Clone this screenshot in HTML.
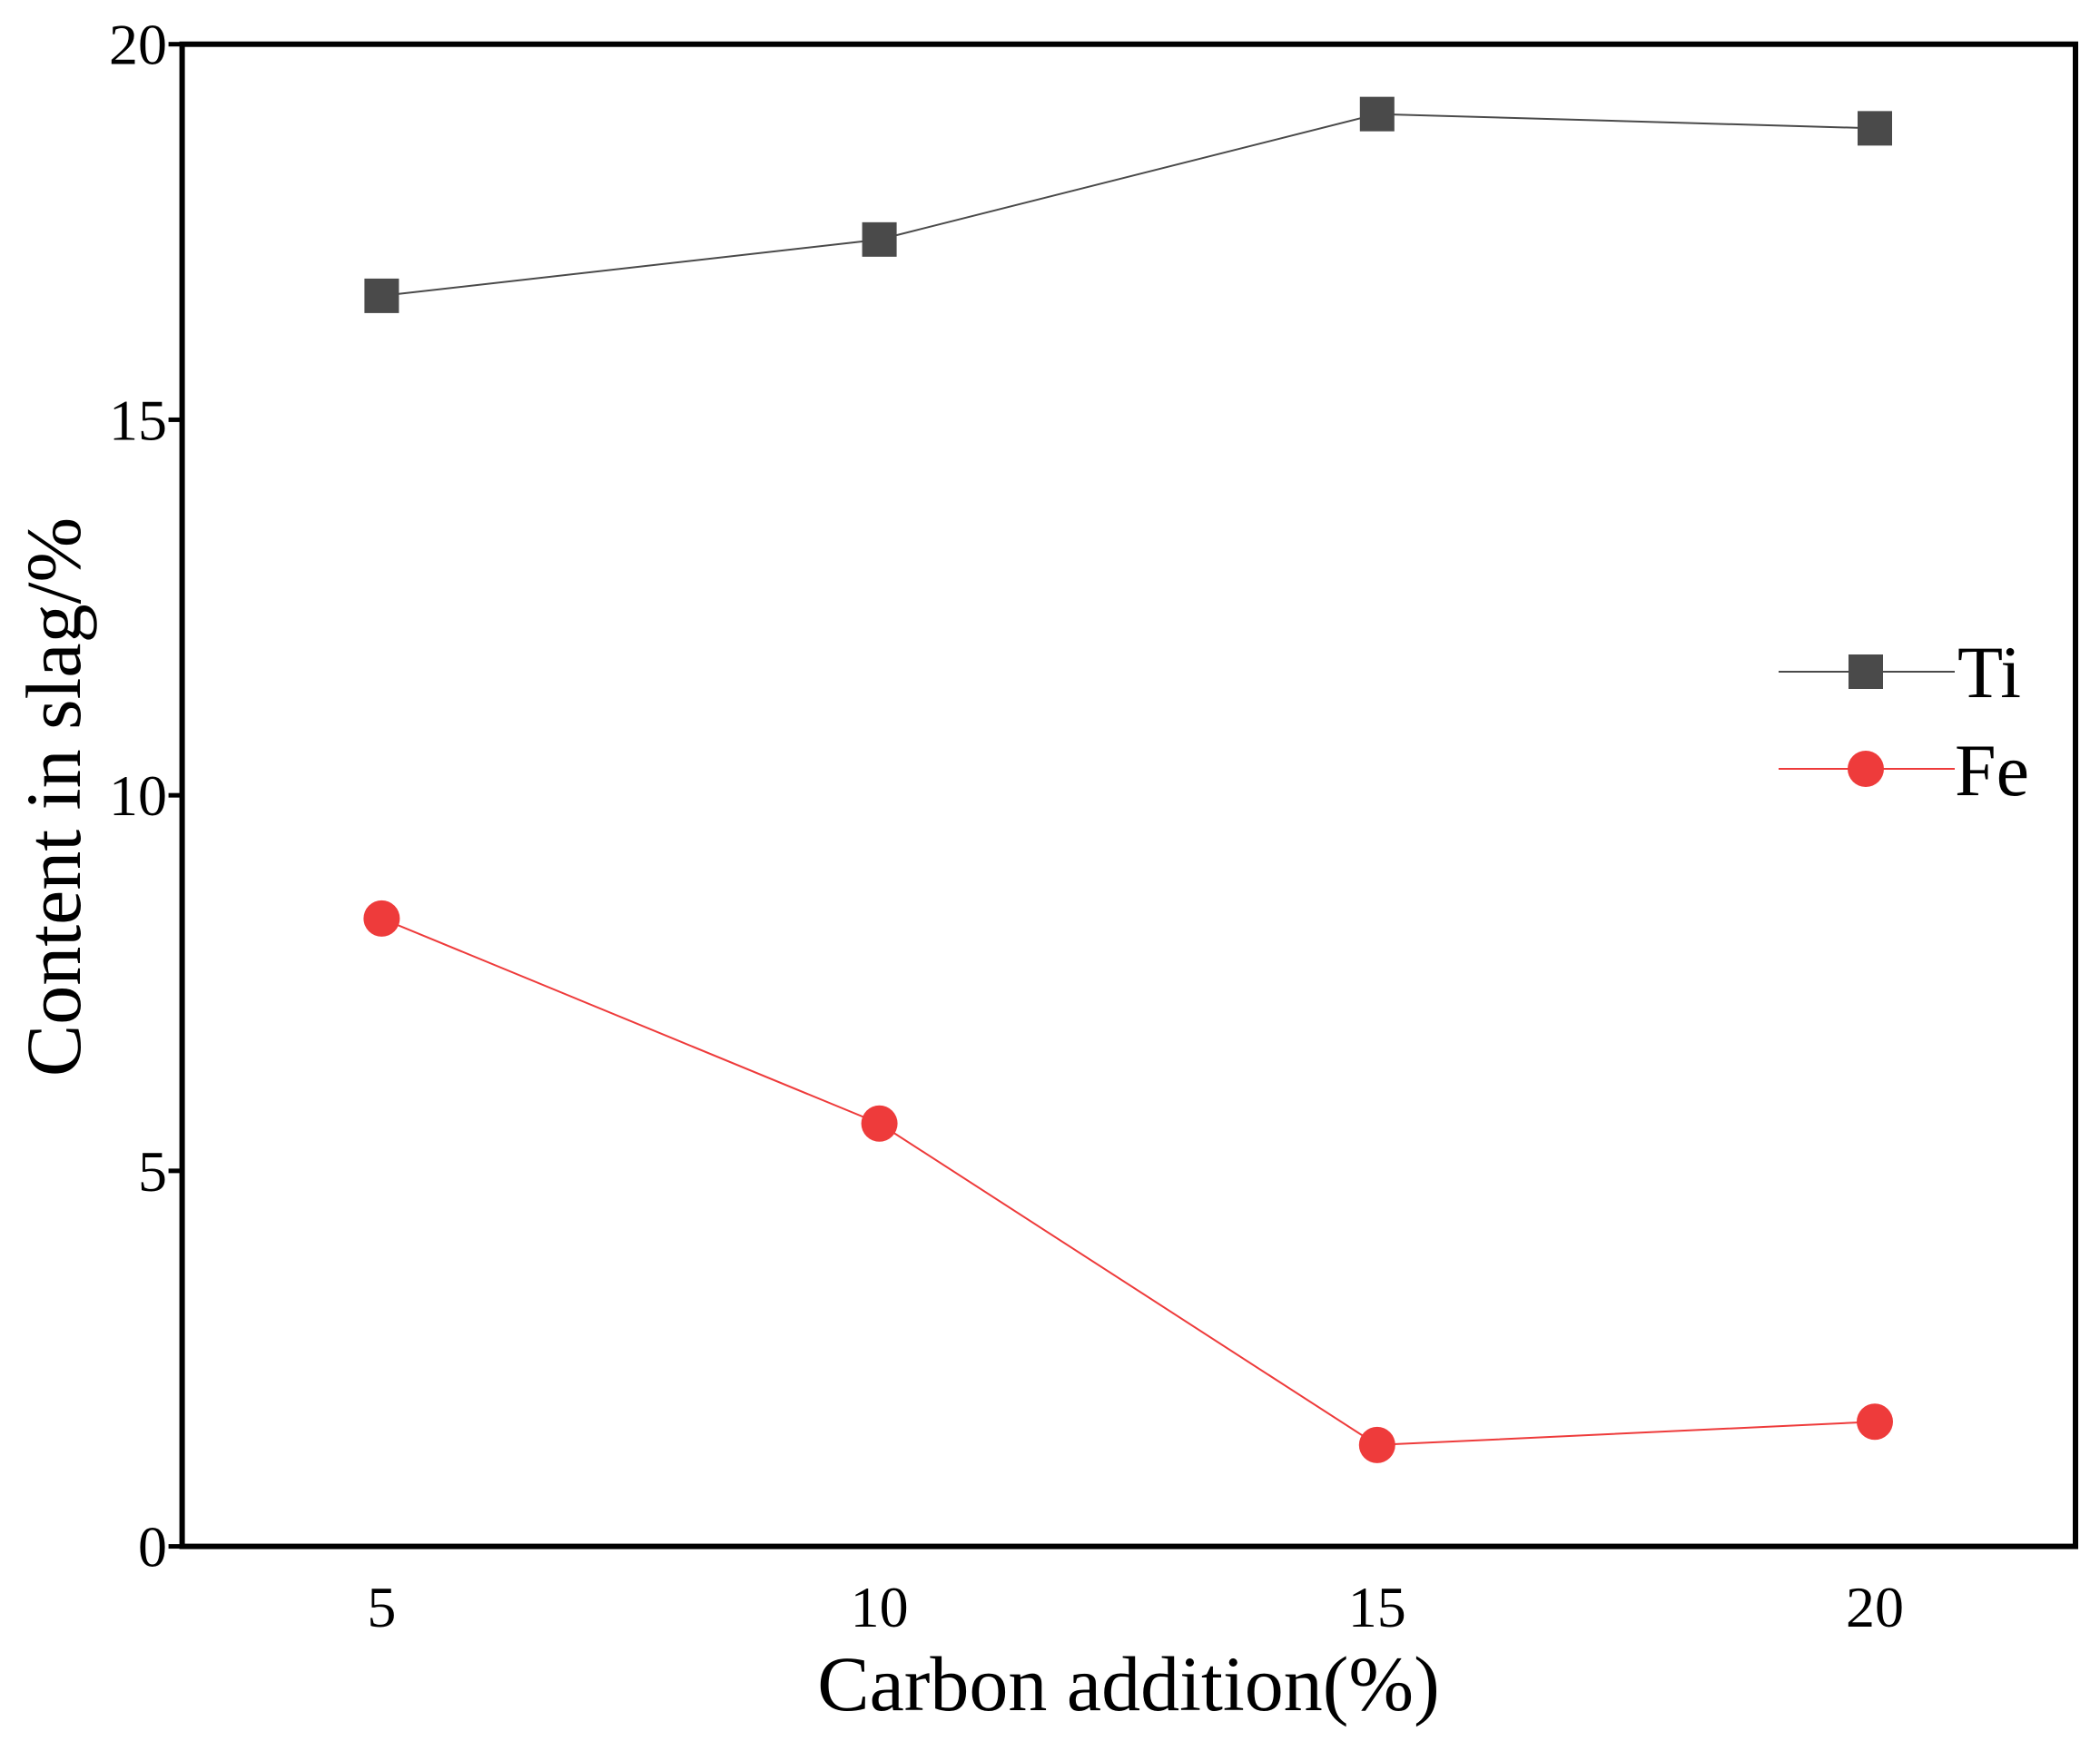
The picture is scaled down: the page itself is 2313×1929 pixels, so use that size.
<!DOCTYPE html>
<html><head><meta charset="utf-8"><style>
html,body{margin:0;padding:0;background:#fff;}
svg text{font-family:"Liberation Serif",serif;fill:#000;}
</style></head><body>
<svg id="chart" width="2313" height="1924" viewBox="0 0 2313 1924" xmlns="http://www.w3.org/2000/svg"></svg>
<script>
const categories=[5,10,15,20];
const tiValues=[16.65,17.4,19.07,18.88];
const feValues=[8.36,5.63,1.35,1.66];
const yTicks=[0,5,10,15,20];
const xTickLabels=["5","10","15","20"];
const NS="http://www.w3.org/2000/svg";
const svg=document.getElementById('chart');
const L=200.6,R=2286,T=48.7,B=1703.6;
const xs=v=>420.4+(v-5)*(2065-420.4)/15;
const ys=v=>B-v*(B-T)/20;
function mk(tag,attrs,parent){const e=document.createElementNS(NS,tag);for(const k in attrs)e.setAttribute(k,attrs[k]);(parent||svg).appendChild(e);return e;}
yTicks.forEach(v=>{
 const t=mk('line',{x1:L-15,x2:L,y1:ys(v),y2:ys(v),stroke:'#000','stroke-width':5});
 
 
 const tx=mk('text',{x:184,y:ys(v)+22,'text-anchor':'end','font-size':64});
 tx.textContent=v;
 
 
});
categories.forEach((c,i)=>{
 const tx=mk('text',{x:xs(c),y:1792,'text-anchor':'middle','font-size':64});
 tx.textContent=xTickLabels[i];
 
 
});
function series(vals,color,shape,name){
 const pts=categories.map((c,i)=>xs(c)+','+ys(vals[i])).join(' ');
 const pl=mk('polyline',{points:pts,fill:'none',stroke:color,'stroke-width':2});
 
 
 categories.forEach((c,i)=>{
  let m;
  if(shape==='sq') m=mk('rect',{x:xs(c)-19,y:ys(vals[i])-19,width:38,height:38,fill:color});
  else m=mk('circle',{cx:xs(c),cy:ys(vals[i]),r:20,fill:color});
  
  
 });
}
series(tiValues,'#4a4a4a','sq','ti');
series(feValues,'#ee3b3b','ci','fe');
</script>
<svg width="2313" height="1924" style="position:absolute;left:0;top:0" xmlns="http://www.w3.org/2000/svg">
<rect x="200.6" y="48.7" width="2085.4" height="1654.9" fill="none" stroke="#000" stroke-width="6"/>
<g>
 <line x1="1959" x2="2153" y1="740" y2="740" stroke="#4a4a4a" stroke-width="2"/>
 <rect x="2036" y="721" width="38" height="38" fill="#4a4a4a"/>
 <text x="2156" y="768" font-size="82" style="font-family:'Liberation Serif',serif">Ti</text>
 <line x1="1959" x2="2153" y1="847" y2="847" stroke="#ee3b3b" stroke-width="2"/>
 <circle cx="2055" cy="847" r="20" fill="#ee3b3b"/>
 <text x="2153" y="876" font-size="82" style="font-family:'Liberation Serif',serif">Fe</text>
</g>
<text x="1243" y="1884" text-anchor="middle" font-size="86" style="font-family:'Liberation Serif',serif">Carbon addition(%)</text>
<text transform="translate(88,878) rotate(-90)" text-anchor="middle" font-size="86" style="font-family:'Liberation Serif',serif">Content in slag/%</text>
</svg>
</body></html>
